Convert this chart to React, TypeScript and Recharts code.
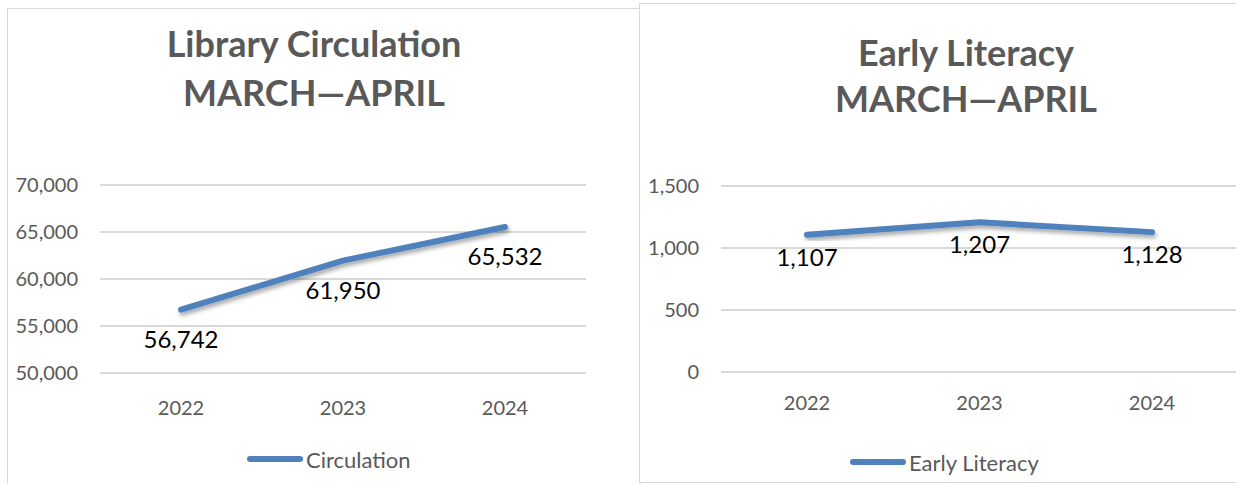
import { LineChart, Line, XAxis, YAxis, CartesianGrid, LabelList } from 'recharts';

const years = ['2022', '2023', '2024'];
const circulation = [56742, 61950, 65532];
const earlyLiteracy = [1107, 1207, 1128];
const circulationTicks = [50000, 55000, 60000, 65000, 70000];
const literacyTicks = [0, 500, 1000, 1500];

const circulationData = years.map((year, i) => ({ year, value: circulation[i] }));
const literacyData = years.map((year, i) => ({ year, value: earlyLiteracy[i] }));

const FONT = 'Lato, "Open Sans", sans-serif';
const GREY = '#595959';
const BLUE = '#4f81bd';

const fmt = (v: number) => v.toLocaleString('en-US');

function Shadow({ id }: { id: string }) {
  return (
    <defs>
      <filter id={id} x="-10%" y="-50%" width="120%" height="200%">
        <feDropShadow dx="1.5" dy="3" stdDeviation="2" floodColor="#000" floodOpacity="0.35" />
      </filter>
    </defs>
  );
}

function Title({ left, top, lines, gap }: { left: number; top: number; lines: string[]; gap: number }) {
  return (
    <>
      {lines.map((t, i) => (
        <div
          key={t}
          style={{
            position: 'absolute',
            left: left - 300,
            width: 600,
            top: top + i * gap - 22,
            height: 44,
            lineHeight: '44px',
            textAlign: 'center',
            fontFamily: FONT,
            fontWeight: 700,
            fontSize: 36,
            color: GREY,
            whiteSpace: 'nowrap',
          }}
        >
          {t}
        </div>
      ))}
    </>
  );
}

function LegendItem({ left, top, name }: { left: number; top: number; name: string }) {
  return (
    <div style={{ position: 'absolute', left, top: top - 14, height: 28, display: 'flex', alignItems: 'center' }}>
      <div style={{ width: 56, height: 6, borderRadius: 3, background: BLUE, marginRight: 3 }} />
      <span style={{ fontFamily: FONT, fontSize: 22, color: GREY }}>{name}</span>
    </div>
  );
}

export default function App() {
  return (
    <div
      style={{
        position: 'absolute',
        left: 0,
        top: 0,
        width: 1236,
        height: 484,
        background: '#fff',
        overflow: 'hidden',
      }}
    >
      {/* panel borders */}
      <div style={{ position: 'absolute', left: 7, top: 8, width: 632, height: 490, border: '1.5px solid #d9d9d9' }} />
      <div style={{ position: 'absolute', left: 639, top: 3, width: 620, height: 478, border: '1.5px solid #d9d9d9', background: '#fff' }} />

      <Title left={314} top={43} lines={['Library Circulation', 'MARCH\u2014APRIL']} gap={49} />
      <Title left={966} top={52} lines={['Early Literacy', 'MARCH\u2014APRIL']} gap={46} />

      <div style={{ position: 'absolute', left: 0, top: 0 }}>
        <LineChart width={637} height={484} data={circulationData} margin={{ top: 185, right: 51, bottom: 81, left: 0 }}>
          <Shadow id="shadowA" />
          <CartesianGrid vertical={false} stroke="#d9d9d9" strokeWidth={2} />
          <XAxis
            dataKey="year"
            axisLine={false}
            tickLine={false}
            tickSize={0}
            tickMargin={28}
            padding={{ left: 81, right: 81 }}
            tick={{ fill: GREY, fontSize: 20, fontFamily: FONT }}
          />
          <YAxis
            width={100}
            domain={[50000, 70000]}
            ticks={circulationTicks}
            tickFormatter={fmt}
            axisLine={false}
            tickLine={false}
            tickSize={0}
            tickMargin={22}
            tick={{ fill: GREY, fontSize: 20, fontFamily: FONT }}
          />
          <Line
            dataKey="value"
            name="Circulation"
            stroke={BLUE}
            strokeWidth={6}
            strokeLinecap="round"
            strokeLinejoin="round"
            dot={false}
            filter="url(#shadowA)"
            isAnimationActive={false}
          >
            <LabelList
              dataKey="value"
              position="bottom"
              offset={21}
              formatter={(v: any) => fmt(Number(v))}
              style={{ fill: '#000', fontSize: 24, fontFamily: FONT }}
            />
          </Line>
        </LineChart>
      </div>

      <div style={{ position: 'absolute', left: 637, top: 0 }}>
        <LineChart width={605} height={484} data={literacyData} margin={{ top: 186, right: 4, bottom: 82, left: 0 }}>
          <Shadow id="shadowB" />
          <CartesianGrid vertical={false} stroke="#d9d9d9" strokeWidth={2} />
          <XAxis
            dataKey="year"
            axisLine={false}
            tickLine={false}
            tickSize={0}
            tickMargin={24}
            padding={{ left: 86, right: 86 }}
            tick={{ fill: GREY, fontSize: 20, fontFamily: FONT }}
          />
          <YAxis
            width={84}
            domain={[0, 1500]}
            ticks={literacyTicks}
            tickFormatter={fmt}
            axisLine={false}
            tickLine={false}
            tickSize={0}
            tickMargin={22}
            tick={{ fill: GREY, fontSize: 20, fontFamily: FONT }}
          />
          <Line
            dataKey="value"
            name="Early Literacy"
            stroke={BLUE}
            strokeWidth={6}
            strokeLinecap="round"
            strokeLinejoin="round"
            dot={false}
            filter="url(#shadowB)"
            isAnimationActive={false}
          >
            <LabelList
              dataKey="value"
              position="bottom"
              offset={14}
              formatter={(v: any) => fmt(Number(v))}
              style={{ fill: '#000', fontSize: 24, fontFamily: FONT }}
            />
          </Line>
        </LineChart>
      </div>

      <LegendItem left={247} top={459} name="Circulation" />
      <LegendItem left={850} top={462} name="Early Literacy" />
    </div>
  );
}
